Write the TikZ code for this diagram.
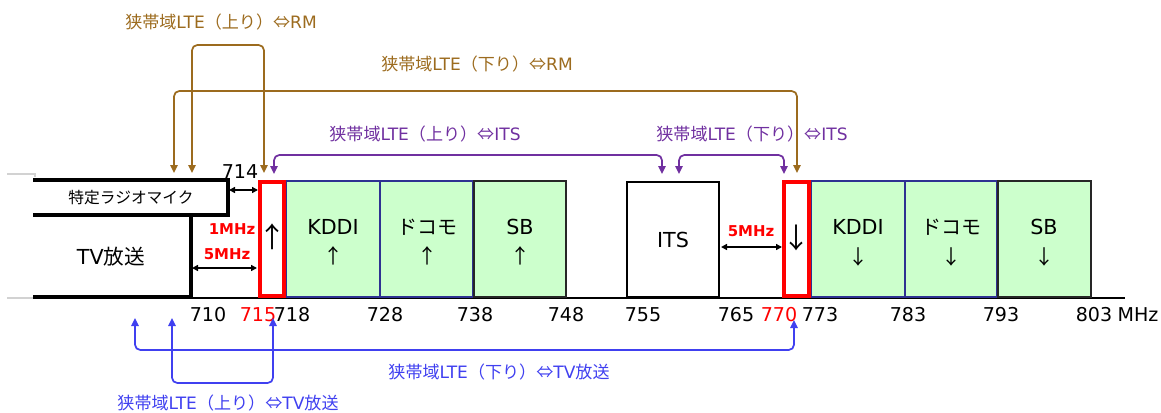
\documentclass[tikz,border=0pt]{standalone}
\usepackage{fontspec}
\setmainfont{DejaVu Sans}
\newfontfamily\cjk{Noto Sans CJK JP}
\usetikzlibrary{arrows.meta}
\definecolor{brn}{RGB}{156,107,30}
\definecolor{prp}{RGB}{112,48,160}
\definecolor{blu}{RGB}{64,64,240}
\definecolor{grn}{RGB}{204,255,204}
\definecolor{nvy}{RGB}{46,49,146}
\definecolor{lgray}{RGB}{210,210,210}
\newcommand{\myeqv}{{\cjk ⇔}}
\begin{document}
\begin{tikzpicture}[x=0.75pt,y=-0.75pt,
  bx/.style 2 args={minimum width=#1*0.75pt, minimum height=#2*0.75pt, inner sep=0pt, outer sep=0pt, anchor=north west},
  gbox/.style={draw=nvy, line width=1.1pt, fill=grn},
  sbbox/.style={draw=black!85, line width=1.5pt, fill=grn},
  redbox/.style={draw=red, line width=3pt},
  itsbox/.style={draw=black, line width=2.2pt, fill=white},
  boxtxt/.style={font=\fontsize{15.5}{18}\selectfont},
  cjktxt/.style={font=\cjk\fontsize{15}{18}\selectfont},
  bigarrow/.style={font=\cjk\fontsize{21}{24}\selectfont},
  num/.style={font=\fontsize{14.3}{17}\selectfont},
  mhz/.style={text=red, font=\bfseries\fontsize{11.2}{14}\selectfont},
  lbl/.style={font=\fontsize{12.8}{15}\selectfont},
  conn/.style={line width=1.3pt, rounded corners=4pt, {Triangle[length=6pt,width=5.5pt]}-{Triangle[length=6pt,width=5.5pt]}},
  dim/.style={line width=1.2pt, black, {Triangle[length=4.5pt,width=4.5pt]}-{Triangle[length=4.5pt,width=4.5pt]}},
  thickln/.style={line width=2.3pt, line cap=rect}
]
\useasboundingbox (0,0) rectangle (1161,412);

% faint gray edge lines
\draw[lgray, line width=0.8pt] (7,174) -- (35,174) -- (35,177);
\draw[lgray, line width=0.8pt] (7,298) -- (35,298);

% RM / TV regions
\draw[thickln] (35,180) -- (228,180) -- (228,215) -- (35,215);
\draw[thickln] (191,215) -- (191,297);
\draw[thickln] (35,297) -- (191,297);
\node[font=\cjk\fontsize{11.8}{14}\selectfont] (rmtxt) at (131,198) {特定ラジオマイク};
\node[boxtxt] (tvtxt) at (111,257) {TV{\cjk 放送}};

% baseline
\draw[line width=1.6pt] (191,298) -- (1125,298);

% uplink boxes
\node[bx={94}{116}, gbox] (kddiU) at (286,181) {};
\node[bx={93}{116}, gbox] (docoU) at (380,181) {};
\node[bx={92}{116}, sbbox] (sbU) at (474,181) {};
% downlink boxes
\node[bx={94}{116}, gbox] (kddiD) at (811,181) {};
\node[bx={92}{116}, gbox] (docoD) at (905,181) {};
\node[bx={93}{116}, sbbox] (sbD) at (998,181) {};
% ITS
\node[bx={92}{115}, itsbox] (its) at (627,182) {};
\node[boxtxt] (itstxt) at (673,240) {ITS};
% red boxes
\node[bx={24.5}{114}, redbox] (redU) at (259.5,182) {};
\node[bx={25.5}{114}, redbox] (redD) at (783.5,182) {};
\node[bigarrow] (redUa) at (272,237) {↑};
\node[bigarrow] (redDa) at (796,238) {↓};

% box texts
\node[boxtxt] (t1) at (333,227) {KDDI};
\node[cjktxt] (a1) at (333,256) {↑};
\node[cjktxt] (t2) at (427,227) {ドコモ};
\node[cjktxt] (a2) at (427,256) {↑};
\node[boxtxt] (t3) at (520,227) {SB};
\node[cjktxt] (a3) at (520,256) {↑};
\node[boxtxt] (t4) at (858,227) {KDDI};
\node[cjktxt] (a4) at (858,257) {↓};
\node[cjktxt] (t5) at (951,227) {ドコモ};
\node[cjktxt] (a5) at (951,257) {↓};
\node[boxtxt] (t6) at (1044,227) {SB};
\node[cjktxt] (a6) at (1044,257) {↓};

% dimension labels
\node[num] (n714) at (240,172) {714};
\coordinate (d1a) at (229,190); \coordinate (d1b) at (258,190);
\draw[dim] (d1a) -- (d1b);
\node[mhz] (m1) at (232,229) {1MHz};
\node[mhz] (m5a) at (227,254) {5MHz};
\coordinate (d2a) at (192,268); \coordinate (d2b) at (257,268);
\draw[dim] (d2a) -- (d2b);
\node[mhz] (m5b) at (751,231) {5MHz};
\coordinate (d3a) at (721,247); \coordinate (d3b) at (782,247);
\draw[dim] (d3a) -- (d3b);

% axis numbers
\node[num] (x710) at (208,315) {710};
\node[num, text=red] (x715) at (258,315) {715};
\node[num] (x718) at (292,315) {718};
\node[num] (x728) at (385,315) {728};
\node[num] (x738) at (475,315) {738};
\node[num] (x748) at (566,315) {748};
\node[num] (x755) at (643,315) {755};
\node[num] (x765) at (736,315) {765};
\node[num, text=red] (x770) at (779,315) {770};
\node[num] (x773) at (820,315) {773};
\node[num] (x783) at (908,315) {783};
\node[num] (x793) at (1001,315) {793};
\node[num] (x803) at (1094,315) {803};
\node[num] (xmhz) at (1138,315) {MHz};

% brown connectors (RM)
\coordinate (b1L) at (192,173); \coordinate (b1T) at (228,45); \coordinate (b1R) at (264,173);
\draw[conn, brn] (b1L) |- (b1T) -| (b1R);
\node[lbl, text=brn] (lb1) at (221,22) {{\cjk 狭帯域}LTE{\cjk （上り）}\myeqv RM};
\coordinate (b2L) at (174,173); \coordinate (b2T) at (480,91); \coordinate (b2R) at (797,173);
\draw[conn, brn] (b2L) |- (b2T) -| (b2R);
\node[lbl, text=brn] (lb2) at (477,64) {{\cjk 狭帯域}LTE{\cjk （下り）}\myeqv RM};

% purple connectors (ITS)
\coordinate (p1L) at (274,174); \coordinate (p1T) at (470,155); \coordinate (p1R) at (662,174);
\draw[conn, prp] (p1L) |- (p1T) -| (p1R);
\node[lbl, text=prp] (lp1) at (425,134) {{\cjk 狭帯域}LTE{\cjk （上り）}\myeqv ITS};
\coordinate (p2L) at (679,174); \coordinate (p2T) at (730,155); \coordinate (p2R) at (784,174);
\draw[conn, prp] (p2L) |- (p2T) -| (p2R);
\node[lbl, text=prp] (lp2) at (752,134) {{\cjk 狭帯域}LTE{\cjk （下り）}\myeqv ITS};

% blue connectors (TV)
\coordinate (u1L) at (135,318); \coordinate (u1B) at (460,350); \coordinate (u1R) at (794,320);
\draw[conn, blu] (u1L) |- (u1B) -| (u1R);
\node[lbl, text=blu] (lu1) at (499,372) {{\cjk 狭帯域}LTE{\cjk （下り）}\myeqv TV{\cjk 放送}};
\coordinate (u2L) at (172,318); \coordinate (u2B) at (222,383); \coordinate (u2R) at (273,318);
\draw[conn, blu] (u2L) |- (u2B) -| (u2R);
\node[lbl, text=blu] (lu2) at (228,403) {{\cjk 狭帯域}LTE{\cjk （上り）}\myeqv TV{\cjk 放送}};
\end{tikzpicture}
\end{document}
